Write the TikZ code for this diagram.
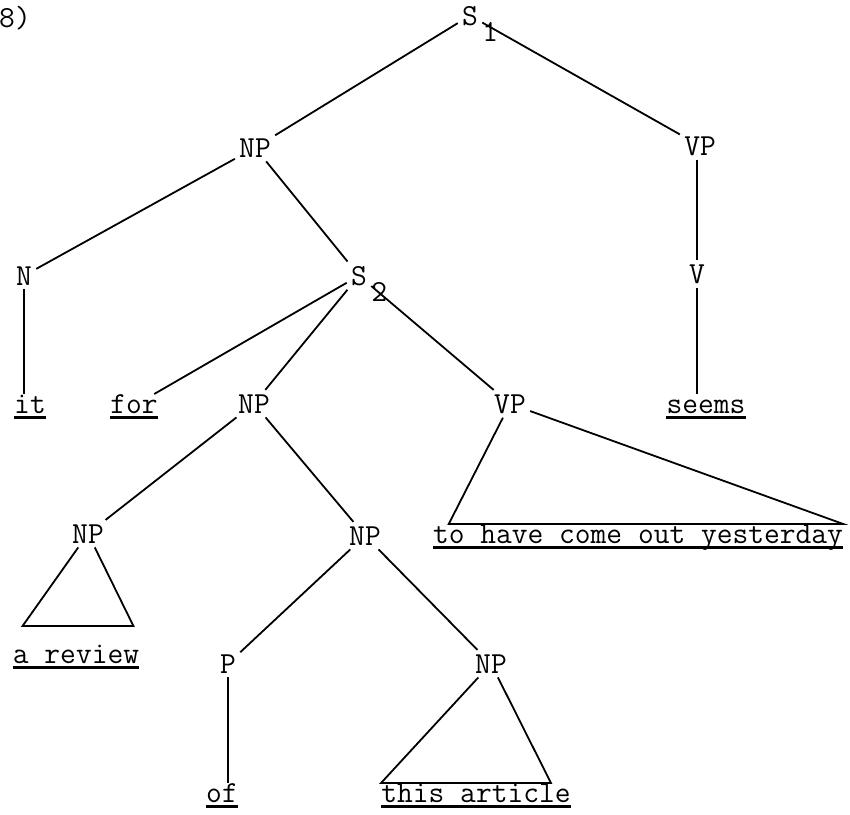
\documentclass[tikz,border=0pt]{standalone}
\usepackage{tikz}

\newcommand{\tyfont}{\fontsize{15.3}{18}\selectfont\ttfamily}
\newcommand{\lowsub}[1]{\rlap{\smash{\raisebox{-0.55em}{\hspace{0.15em}#1}}}}

\begin{document}
\begin{tikzpicture}[
  x=0.5pt, y=-0.5pt,
  cat/.style={font=\tyfont, inner sep=2pt, anchor=base},
  word/.style={font=\tyfont, inner sep=0pt, anchor=base, text height=0.93em, text depth=0.2em},
  branch/.style={line width=0.9pt},
  uline/.style={line width=1.2pt}
]
\useasboundingbox (0,0) rectangle (850,814);

\node[cat] (num) at (15,27) {8)};
\node[cat] (s1) at (470,25) {S\lowsub{1}};
\node[cat] (np1) at (255,157) {NP};
\node[cat] (vp1) at (700,155) {VP};
\node[cat] (n) at (24,285) {N};
\node[cat] (s2) at (359,285) {S\lowsub{2}};
\node[cat] (v) at (697,283) {V};
\node[word] (it) at (30,413) {it};
\node[word] (for) at (134,413) {for};
\node[cat] (np2) at (254,413) {NP};
\node[cat] (vp2) at (510,413) {VP};
\node[word] (seems) at (706,413) {seems};
\node[word] (yesterday) at (638,543) {to have come out yesterday};
\node[cat] (np3) at (88,543) {NP};
\node[cat] (np4) at (365,545) {NP};
\node[word] (review) at (76,663) {a review};
\node[cat] (p) at (228,673) {P};
\node[cat] (np5) at (491,673) {NP};
\node[word] (of) at (222,802) {of};
\node[word] (article) at (476,802) {this article};

\draw[branch] (s1) -- (np1);
\draw[branch] (s1) -- (vp1);
\draw[branch] (np1) -- (n);
\draw[branch] (np1) -- (s2);
\draw[branch] (vp1.south -| v) -- (v);
\draw[branch] (v) -- (v |- seems.north);
\draw[branch] (n) -- (n |- it.north);
\draw[branch] (s2) -- (for);
\draw[branch] (s2) -- (np2);
\draw[branch] (s2) -- (vp2);
\draw[branch] (np2) -- (np3);
\draw[branch] (np2) -- (np4);
\draw[branch] (np4) -- (p);
\draw[branch] (np4) -- (np5);
\draw[branch] (p) -- (p |- of.north);

\draw[branch] (vp2) -- ([xshift=8]yesterday.north west) -- (yesterday.north east) -- (vp2);
\draw[branch] (np3) -- ([xshift=5,yshift=9]review.north west) -- ([xshift=-3,yshift=9]review.north east) -- (np3);
\draw[branch] (np5) -- (article.north west) -- ([xshift=-10]article.north east) -- (np5);

\foreach \w in {it,for,seems,yesterday,review,of,article}
  \draw[uline] (\w.south west) -- (\w.south east);
\end{tikzpicture}
\end{document}
